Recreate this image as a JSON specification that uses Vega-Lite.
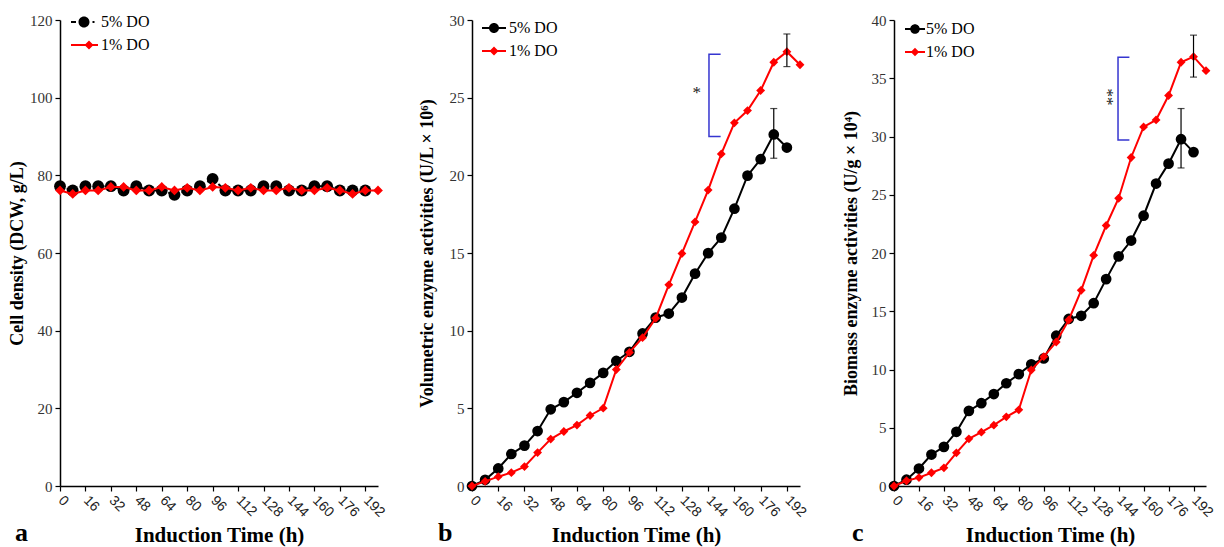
{
"$schema":"https://vega.github.io/schema/vega-lite/v6.json",
"background":"white",
"padding":{"left":8,"top":12,"right":0,"bottom":0},
"datasets":{
"a":[
{"t":0,"s":"5% DO","v":77.2},{"t":8,"s":"5% DO","v":76.1},{"t":16,"s":"5% DO","v":77.2},{"t":24,"s":"5% DO","v":77.2},{"t":32,"s":"5% DO","v":77.2},{"t":40,"s":"5% DO","v":76.1},{"t":48,"s":"5% DO","v":77.2},{"t":56,"s":"5% DO","v":76.1},{"t":64,"s":"5% DO","v":76.1},{"t":72,"s":"5% DO","v":75.0},{"t":80,"s":"5% DO","v":76.1},{"t":88,"s":"5% DO","v":77.2},{"t":96,"s":"5% DO","v":79.1},{"t":104,"s":"5% DO","v":76.1},{"t":112,"s":"5% DO","v":76.1},{"t":120,"s":"5% DO","v":76.1},{"t":128,"s":"5% DO","v":77.2},{"t":136,"s":"5% DO","v":77.2},{"t":144,"s":"5% DO","v":76.1},{"t":152,"s":"5% DO","v":76.1},{"t":160,"s":"5% DO","v":77.2},{"t":168,"s":"5% DO","v":77.2},{"t":176,"s":"5% DO","v":76.1},{"t":184,"s":"5% DO","v":76.1},{"t":192,"s":"5% DO","v":76.1},
{"t":0,"s":"1% DO","v":76.1},{"t":8,"s":"1% DO","v":75.2},{"t":16,"s":"1% DO","v":76.1},{"t":24,"s":"1% DO","v":76.1},{"t":32,"s":"1% DO","v":77.0},{"t":40,"s":"1% DO","v":77.0},{"t":48,"s":"1% DO","v":76.1},{"t":56,"s":"1% DO","v":76.1},{"t":64,"s":"1% DO","v":77.0},{"t":72,"s":"1% DO","v":76.1},{"t":80,"s":"1% DO","v":76.8},{"t":88,"s":"1% DO","v":76.1},{"t":96,"s":"1% DO","v":77.0},{"t":104,"s":"1% DO","v":76.8},{"t":112,"s":"1% DO","v":76.1},{"t":120,"s":"1% DO","v":76.8},{"t":128,"s":"1% DO","v":76.1},{"t":136,"s":"1% DO","v":76.1},{"t":144,"s":"1% DO","v":76.8},{"t":152,"s":"1% DO","v":76.1},{"t":160,"s":"1% DO","v":76.1},{"t":168,"s":"1% DO","v":76.8},{"t":176,"s":"1% DO","v":76.1},{"t":184,"s":"1% DO","v":75.2},{"t":192,"s":"1% DO","v":76.1},{"t":200,"s":"1% DO","v":76.1}
],
"b":[
{"t":0,"s":"5% DO","v":0},{"t":8,"s":"5% DO","v":0.4},{"t":16,"s":"5% DO","v":1.13},{"t":24,"s":"5% DO","v":2.06},{"t":32,"s":"5% DO","v":2.6},{"t":40,"s":"5% DO","v":3.54},{"t":48,"s":"5% DO","v":4.94},{"t":56,"s":"5% DO","v":5.4},{"t":64,"s":"5% DO","v":6.0},{"t":72,"s":"5% DO","v":6.64},{"t":80,"s":"5% DO","v":7.28},{"t":88,"s":"5% DO","v":8.05},{"t":96,"s":"5% DO","v":8.64},{"t":104,"s":"5% DO","v":9.82},{"t":112,"s":"5% DO","v":10.84},{"t":120,"s":"5% DO","v":11.1},{"t":128,"s":"5% DO","v":12.13},{"t":136,"s":"5% DO","v":13.67},{"t":144,"s":"5% DO","v":14.99},{"t":152,"s":"5% DO","v":15.99},{"t":160,"s":"5% DO","v":17.85},{"t":168,"s":"5% DO","v":19.98},{"t":176,"s":"5% DO","v":21.04},{"t":184,"s":"5% DO","v":22.63},{"t":192,"s":"5% DO","v":21.79},
{"t":0,"s":"1% DO","v":0},{"t":8,"s":"1% DO","v":0.3},{"t":16,"s":"1% DO","v":0.6},{"t":24,"s":"1% DO","v":0.86},{"t":32,"s":"1% DO","v":1.25},{"t":40,"s":"1% DO","v":2.15},{"t":48,"s":"1% DO","v":3.02},{"t":56,"s":"1% DO","v":3.51},{"t":64,"s":"1% DO","v":3.92},{"t":72,"s":"1% DO","v":4.54},{"t":80,"s":"1% DO","v":5.01},{"t":88,"s":"1% DO","v":7.5},{"t":96,"s":"1% DO","v":8.6},{"t":104,"s":"1% DO","v":9.55},{"t":112,"s":"1% DO","v":10.8},{"t":120,"s":"1% DO","v":12.95},{"t":128,"s":"1% DO","v":14.97},{"t":136,"s":"1% DO","v":17.0},{"t":144,"s":"1% DO","v":19.05},{"t":152,"s":"1% DO","v":21.38},{"t":160,"s":"1% DO","v":23.38},{"t":168,"s":"1% DO","v":24.17},{"t":176,"s":"1% DO","v":25.46},{"t":184,"s":"1% DO","v":27.28},{"t":192,"s":"1% DO","v":27.96},{"t":200,"s":"1% DO","v":27.12}
],
"c":[
{"t":0,"s":"5% DO","v":0},{"t":8,"s":"5% DO","v":0.54},{"t":16,"s":"5% DO","v":1.5},{"t":24,"s":"5% DO","v":2.7},{"t":32,"s":"5% DO","v":3.36},{"t":40,"s":"5% DO","v":4.65},{"t":48,"s":"5% DO","v":6.45},{"t":56,"s":"5% DO","v":7.11},{"t":64,"s":"5% DO","v":7.89},{"t":72,"s":"5% DO","v":8.82},{"t":80,"s":"5% DO","v":9.6},{"t":88,"s":"5% DO","v":10.44},{"t":96,"s":"5% DO","v":10.95},{"t":104,"s":"5% DO","v":12.9},{"t":112,"s":"5% DO","v":14.34},{"t":120,"s":"5% DO","v":14.61},{"t":128,"s":"5% DO","v":15.69},{"t":136,"s":"5% DO","v":17.76},{"t":144,"s":"5% DO","v":19.71},{"t":152,"s":"5% DO","v":21.07},{"t":160,"s":"5% DO","v":23.2},{"t":168,"s":"5% DO","v":25.96},{"t":176,"s":"5% DO","v":27.67},{"t":184,"s":"5% DO","v":29.77},{"t":192,"s":"5% DO","v":28.66},
{"t":0,"s":"1% DO","v":0},{"t":8,"s":"1% DO","v":0.45},{"t":16,"s":"1% DO","v":0.72},{"t":24,"s":"1% DO","v":1.14},{"t":32,"s":"1% DO","v":1.56},{"t":40,"s":"1% DO","v":2.85},{"t":48,"s":"1% DO","v":4.05},{"t":56,"s":"1% DO","v":4.62},{"t":64,"s":"1% DO","v":5.22},{"t":72,"s":"1% DO","v":5.94},{"t":80,"s":"1% DO","v":6.54},{"t":88,"s":"1% DO","v":9.96},{"t":96,"s":"1% DO","v":11.1},{"t":104,"s":"1% DO","v":12.36},{"t":112,"s":"1% DO","v":14.25},{"t":120,"s":"1% DO","v":16.8},{"t":128,"s":"1% DO","v":19.8},{"t":136,"s":"1% DO","v":22.36},{"t":144,"s":"1% DO","v":24.7},{"t":152,"s":"1% DO","v":28.2},{"t":160,"s":"1% DO","v":30.82},{"t":168,"s":"1% DO","v":31.42},{"t":176,"s":"1% DO","v":33.52},{"t":184,"s":"1% DO","v":36.37},{"t":192,"s":"1% DO","v":36.85},{"t":200,"s":"1% DO","v":35.65}
],
"b_err":[{"t":184,"lo":21.1,"hi":24.3},{"t":192,"lo":27.0,"hi":29.1}],
"c_err":[{"t":184,"lo":27.3,"hi":32.4},{"t":192,"lo":35.1,"hi":38.7}],
"b_br":[{"o":1,"t":151.6,"v":27.8},{"o":2,"t":144.5,"v":27.8},{"o":3,"t":144.5,"v":22.5},{"o":4,"t":151.6,"v":22.5}],
"c_br":[{"o":1,"t":150.9,"v":36.8},{"o":2,"t":143.6,"v":36.8},{"o":3,"t":143.6,"v":29.7},{"o":4,"t":150.9,"v":29.7}],
"b_txt":[{"t":137,"v":25.3,"label":"*"}],
"c_txt":[{"t":136.3,"v":33.4,"label":"**"}]
},
"spacing":94,
"bounds":"flush",
"resolve":{"scale":{"color":"independent","shape":"independent"},"legend":{"color":"independent","shape":"independent"}},
"hconcat":[
{
"width":318,"height":466,
"resolve":{"axis":{"x":"independent"}},
"title":{"text":"a","orient":"bottom","anchor":"start","frame":"group","dx":-45,"offset":-4,"baseline":"alphabetic","font":"Liberation Serif","fontSize":26,"fontWeight":"bold","color":"#000"},
"layer":[
{"data":{"name":"a"},"transform":[{"filter":"datum.s==='5% DO'"}],"mark":{"type":"line","color":"#000","strokeWidth":2,"strokeDash":[4,3]},
"encoding":{"x":{"field":"t","type":"quantitative","title":"Induction Time (h)","scale":{"domain":[0,200],"nice":false},"axis":{"orient":"bottom","values":[0,32,64,96,128,160,192]}},
"y":{"field":"v","type":"quantitative","title":"Cell density (DCW, g/L)","scale":{"domain":[0,120],"nice":false},"axis":{"values":[0,20,40,60,80,100,120],"titlePadding":3}}}},
{"data":{"name":"a"},"transform":[{"filter":"datum.s==='5% DO'"}],"mark":{"type":"point","shape":"circle","filled":true,"color":"#000","size":140,"opacity":1},
"encoding":{"x":{"field":"t","type":"quantitative","axis":null},"y":{"field":"v","type":"quantitative","title":"Cell density (DCW, g/L)"}}},
{"data":{"name":"a"},"transform":[{"filter":"datum.s==='1% DO'"}],"mark":{"type":"line","color":"#ff0000","strokeWidth":2},
"encoding":{"x":{"field":"t","type":"quantitative","title":null,"axis":{"orient":"bottom","values":[16,48,80,112,144,176],"domain":false,"title":null}},"y":{"field":"v","type":"quantitative","title":"Cell density (DCW, g/L)"}}},
{"data":{"name":"a"},"transform":[{"filter":"datum.s==='1% DO'"}],"mark":{"type":"point","shape":"diamond","filled":true,"color":"#ff0000","size":95,"opacity":1},
"encoding":{"x":{"field":"t","type":"quantitative","axis":null},"y":{"field":"v","type":"quantitative","title":"Cell density (DCW, g/L)"}}},
{"data":{"name":"a"},"transform":[{"filter":"false"}],"mark":{"type":"point","filled":true,"size":400,"opacity":1},
"encoding":{"x":{"field":"t","type":"quantitative","axis":null},"y":{"field":"v","type":"quantitative","title":"Cell density (DCW, g/L)"},
"color":{"field":"s","type":"nominal","scale":{"domain":["5% DO","1% DO"],"range":["#000000","#ff0000"]},"legend":{"title":null,"orient":"none","legendX":14,"legendY":-8,"padding":0,"symbolSize":400,"symbolStrokeWidth":0,"symbolOpacity":1,"labelFont":"Liberation Serif","labelFontSize":16,"labelColor":"#000","labelOffset":7,"rowPadding":5}},
"shape":{"field":"s","type":"nominal","scale":{"domain":["5% DO","1% DO"],"range":["M-1.3,-0.1H-0.8V0.1H-1.3Z M0.55,0A0.55,0.55 0 1 1 -0.55,0A0.55,0.55 0 1 1 0.55,0Z M0.85,-0.1H1.05V0.1H0.85Z","M-1.3,-0.1H1.4V0.1H-1.3Z M0.5,-0.45L0.95,0L0.5,0.45L0.05,0Z"]},"legend":{"title":null,"orient":"none","legendX":14,"legendY":-8,"padding":0,"symbolSize":400,"symbolStrokeWidth":0,"symbolOpacity":1,"labelFont":"Liberation Serif","labelFontSize":16,"labelColor":"#000","labelOffset":7,"rowPadding":5}}}}
]
},
{
"width":328,"height":466,
"resolve":{"axis":{"x":"independent"}},
"title":{"text":"b","orient":"bottom","anchor":"start","frame":"group","dx":-34,"offset":-4,"baseline":"alphabetic","font":"Liberation Serif","fontSize":26,"fontWeight":"bold","color":"#000"},
"layer":[
{"data":{"name":"b"},"transform":[{"filter":"datum.s==='5% DO'"}],"mark":{"type":"line","color":"#000","strokeWidth":2},
"encoding":{"x":{"field":"t","type":"quantitative","title":"Induction Time (h)","scale":{"domain":[0,200],"nice":false},"axis":{"orient":"bottom","values":[0,32,64,96,128,160,192]}},
"y":{"field":"v","type":"quantitative","title":"Volumetric enzyme activities (U/L × 10⁶)","scale":{"domain":[0,30],"nice":false},"axis":{"values":[0,5,10,15,20,25,30],"titlePadding":13}}}},
{"data":{"name":"b"},"transform":[{"filter":"datum.s==='5% DO'"}],"mark":{"type":"point","shape":"circle","filled":true,"color":"#000","size":115,"opacity":1},
"encoding":{"x":{"field":"t","type":"quantitative","axis":null},"y":{"field":"v","type":"quantitative","title":"Volumetric enzyme activities (U/L × 10⁶)"}}},
{"data":{"name":"b"},"transform":[{"filter":"datum.s==='1% DO'"}],"mark":{"type":"line","color":"#ff0000","strokeWidth":2},
"encoding":{"x":{"field":"t","type":"quantitative","title":null,"axis":{"orient":"bottom","values":[16,48,80,112,144,176],"domain":false,"title":null}},"y":{"field":"v","type":"quantitative","title":"Volumetric enzyme activities (U/L × 10⁶)"}}},
{"data":{"name":"b"},"transform":[{"filter":"datum.s==='1% DO'"}],"mark":{"type":"point","shape":"diamond","filled":true,"color":"#ff0000","size":78,"opacity":1},
"encoding":{"x":{"field":"t","type":"quantitative","axis":null},"y":{"field":"v","type":"quantitative","title":"Volumetric enzyme activities (U/L × 10⁶)"}}},
{"data":{"name":"b_err"},"mark":{"type":"rule","color":"#000","strokeWidth":1.2},
"encoding":{"x":{"field":"t","type":"quantitative","axis":null},"y":{"field":"lo","type":"quantitative","title":"Volumetric enzyme activities (U/L × 10⁶)"},"y2":{"field":"hi"}}},
{"data":{"name":"b_err"},"mark":{"type":"tick","color":"#000","orient":"horizontal","size":7,"thickness":1.2},
"encoding":{"x":{"field":"t","type":"quantitative","axis":null},"y":{"field":"lo","type":"quantitative","title":"Volumetric enzyme activities (U/L × 10⁶)"}}},
{"data":{"name":"b_err"},"mark":{"type":"tick","color":"#000","orient":"horizontal","size":7,"thickness":1.2},
"encoding":{"x":{"field":"t","type":"quantitative","axis":null},"y":{"field":"hi","type":"quantitative","title":"Volumetric enzyme activities (U/L × 10⁶)"}}},
{"data":{"name":"b_br"},"mark":{"type":"line","color":"#3535d0","strokeWidth":1.5},
"encoding":{"x":{"field":"t","type":"quantitative","axis":null},"y":{"field":"v","type":"quantitative","title":"Volumetric enzyme activities (U/L × 10⁶)"},"order":{"field":"o","type":"quantitative"}}},
{"data":{"name":"b_txt"},"mark":{"type":"text","font":"Liberation Serif","fontSize":17,"color":"#222","align":"center","baseline":"middle"},
"encoding":{"x":{"field":"t","type":"quantitative","axis":null},"y":{"field":"v","type":"quantitative","title":"Volumetric enzyme activities (U/L × 10⁶)"},"text":{"field":"label"}}},
{"data":{"name":"b"},"transform":[{"filter":"false"}],"mark":{"type":"point","filled":true,"size":400,"opacity":1},
"encoding":{"x":{"field":"t","type":"quantitative","axis":null},"y":{"field":"v","type":"quantitative","title":"Volumetric enzyme activities (U/L × 10⁶)"},
"color":{"field":"s","type":"nominal","scale":{"domain":["5% DO","1% DO"],"range":["#000000","#ff0000"]},"legend":{"title":null,"orient":"none","legendX":12,"legendY":-2,"padding":0,"symbolSize":400,"symbolStrokeWidth":0,"symbolOpacity":1,"labelFont":"Liberation Serif","labelFontSize":16,"labelColor":"#000","labelOffset":5,"rowPadding":5}},
"shape":{"field":"s","type":"nominal","scale":{"domain":["5% DO","1% DO"],"range":["M-1.2,-0.1H1.2V0.1H-1.2Z M0.5,0A0.5,0.5 0 1 1 -0.5,0A0.5,0.5 0 1 1 0.5,0Z","M-1.2,-0.1H1.2V0.1H-1.2Z M0,-0.45L0.45,0L0,0.45L-0.45,0Z"]},"legend":{"title":null,"orient":"none","legendX":12,"legendY":-2,"padding":0,"symbolSize":400,"symbolStrokeWidth":0,"symbolOpacity":1,"labelFont":"Liberation Serif","labelFontSize":16,"labelColor":"#000","labelOffset":5,"rowPadding":5}}}}
]
},
{
"width":312,"height":466,
"resolve":{"axis":{"x":"independent"}},
"title":{"text":"c","orient":"bottom","anchor":"start","frame":"group","dx":-42,"offset":-4,"baseline":"alphabetic","font":"Liberation Serif","fontSize":26,"fontWeight":"bold","color":"#000"},
"layer":[
{"data":{"name":"c"},"transform":[{"filter":"datum.s==='5% DO'"}],"mark":{"type":"line","color":"#000","strokeWidth":2},
"encoding":{"x":{"field":"t","type":"quantitative","title":"Induction Time (h)","scale":{"domain":[0,200],"nice":false},"axis":{"orient":"bottom","values":[0,32,64,96,128,160,192]}},
"y":{"field":"v","type":"quantitative","title":"Biomass enzyme activities (U/g × 10⁴)","scale":{"domain":[0,40],"nice":false},"axis":{"values":[0,5,10,15,20,25,30,35,40],"titlePadding":11}}}},
{"data":{"name":"c"},"transform":[{"filter":"datum.s==='5% DO'"}],"mark":{"type":"point","shape":"circle","filled":true,"color":"#000","size":115,"opacity":1},
"encoding":{"x":{"field":"t","type":"quantitative","axis":null},"y":{"field":"v","type":"quantitative","title":"Biomass enzyme activities (U/g × 10⁴)"}}},
{"data":{"name":"c"},"transform":[{"filter":"datum.s==='1% DO'"}],"mark":{"type":"line","color":"#ff0000","strokeWidth":2},
"encoding":{"x":{"field":"t","type":"quantitative","title":null,"axis":{"orient":"bottom","values":[16,48,80,112,144,176],"domain":false,"title":null}},"y":{"field":"v","type":"quantitative","title":"Biomass enzyme activities (U/g × 10⁴)"}}},
{"data":{"name":"c"},"transform":[{"filter":"datum.s==='1% DO'"}],"mark":{"type":"point","shape":"diamond","filled":true,"color":"#ff0000","size":78,"opacity":1},
"encoding":{"x":{"field":"t","type":"quantitative","axis":null},"y":{"field":"v","type":"quantitative","title":"Biomass enzyme activities (U/g × 10⁴)"}}},
{"data":{"name":"c_err"},"mark":{"type":"rule","color":"#000","strokeWidth":1.2},
"encoding":{"x":{"field":"t","type":"quantitative","axis":null},"y":{"field":"lo","type":"quantitative","title":"Biomass enzyme activities (U/g × 10⁴)"},"y2":{"field":"hi"}}},
{"data":{"name":"c_err"},"mark":{"type":"tick","color":"#000","orient":"horizontal","size":7,"thickness":1.2},
"encoding":{"x":{"field":"t","type":"quantitative","axis":null},"y":{"field":"lo","type":"quantitative","title":"Biomass enzyme activities (U/g × 10⁴)"}}},
{"data":{"name":"c_err"},"mark":{"type":"tick","color":"#000","orient":"horizontal","size":7,"thickness":1.2},
"encoding":{"x":{"field":"t","type":"quantitative","axis":null},"y":{"field":"hi","type":"quantitative","title":"Biomass enzyme activities (U/g × 10⁴)"}}},
{"data":{"name":"c_br"},"mark":{"type":"line","color":"#3535d0","strokeWidth":1.5},
"encoding":{"x":{"field":"t","type":"quantitative","axis":null},"y":{"field":"v","type":"quantitative","title":"Biomass enzyme activities (U/g × 10⁴)"},"order":{"field":"o","type":"quantitative"}}},
{"data":{"name":"c_txt"},"mark":{"type":"text","font":"Liberation Serif","fontSize":17,"color":"#222","align":"center","baseline":"middle","angle":90},
"encoding":{"x":{"field":"t","type":"quantitative","axis":null},"y":{"field":"v","type":"quantitative","title":"Biomass enzyme activities (U/g × 10⁴)"},"text":{"field":"label"}}},
{"data":{"name":"c"},"transform":[{"filter":"false"}],"mark":{"type":"point","filled":true,"size":400,"opacity":1},
"encoding":{"x":{"field":"t","type":"quantitative","axis":null},"y":{"field":"v","type":"quantitative","title":"Biomass enzyme activities (U/g × 10⁴)"},
"color":{"field":"s","type":"nominal","scale":{"domain":["5% DO","1% DO"],"range":["#000000","#ff0000"]},"legend":{"title":null,"orient":"none","legendX":11,"legendY":-1,"padding":0,"symbolSize":400,"symbolStrokeWidth":0,"symbolOpacity":1,"labelFont":"Liberation Serif","labelFontSize":16,"labelColor":"#000","labelOffset":1,"rowPadding":5}},
"shape":{"field":"s","type":"nominal","scale":{"domain":["5% DO","1% DO"],"range":["M-1,-0.1H1V0.1H-1Z M0.48,0A0.48,0.48 0 1 1 -0.48,0A0.48,0.48 0 1 1 0.48,0Z","M-1,-0.1H1V0.1H-1Z M0,-0.42L0.42,0L0,0.42L-0.42,0Z"]},"legend":{"title":null,"orient":"none","legendX":11,"legendY":-1,"padding":0,"symbolSize":400,"symbolStrokeWidth":0,"symbolOpacity":1,"labelFont":"Liberation Serif","labelFontSize":16,"labelColor":"#000","labelOffset":1,"rowPadding":5}}}}
]
}
],
"config":{
"view":{"stroke":null},
"font":"Liberation Serif",
"axis":{"grid":false,"domainColor":"#000","domainWidth":1.5,"tickColor":"#000","tickWidth":1.2,"tickSize":5,"labelFont":"Liberation Serif","labelFontSize":15,"labelColor":"#333","labelOverlap":false,"titleFont":"Liberation Serif","titleFontSize":18,"titleFontWeight":"bold","titleColor":"#000"},
"axisX":{"labelFont":"Liberation Sans","labelFontSize":14,"labelAngle":45,"labelAlign":"left","labelBaseline":"middle","labelPadding":7,"labelBound":false,"titlePadding":5,"titleFontSize":21,"labelColor":"#222"},
"axisY":{"labelPadding":3}
}
}
